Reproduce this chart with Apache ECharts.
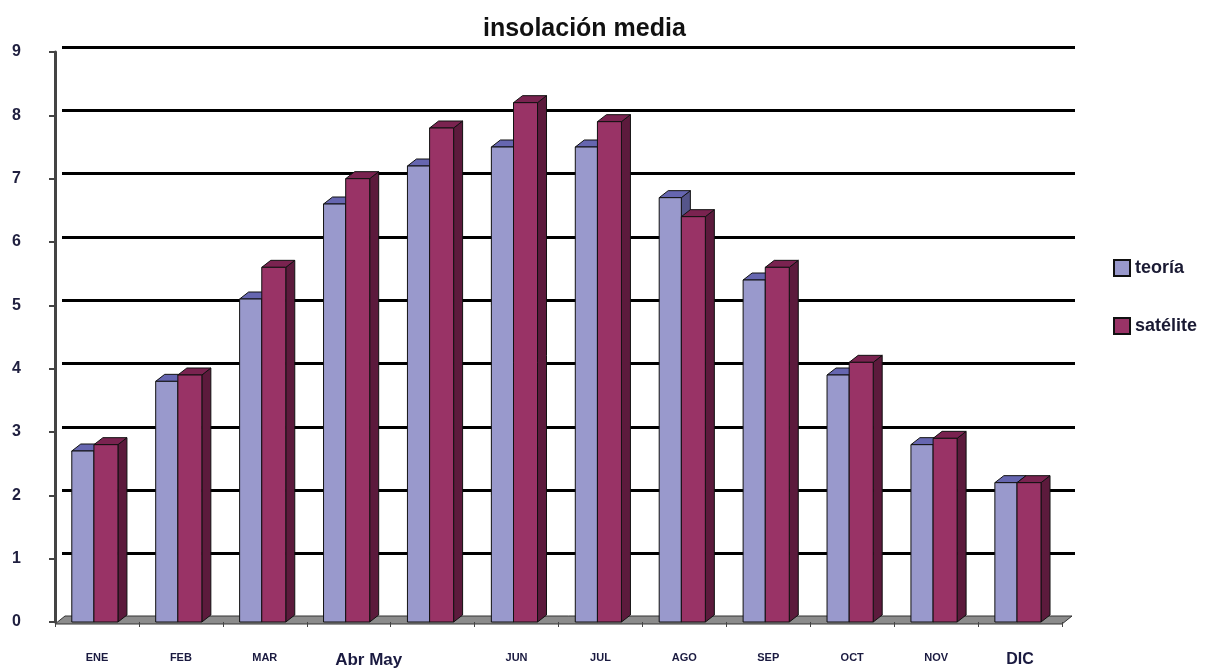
<!DOCTYPE html>
<html><head><meta charset="utf-8">
<script src="https://cdn.jsdelivr.net/npm/echarts@6/dist/echarts.min.js"></script>
<style>html,body{margin:0;padding:0;background:#fff}#c{width:1210px;height:669px}</style>
</head><body><div id="c"></div>
<script>
const categories = ['ENE','FEB','MAR','Abr','May','JUN','JUL','AGO','SEP','OCT','NOV','DIC'];
const tickLabels = ['ENE','FEB','MAR','Abr May','','JUN','JUL','AGO','SEP','OCT','NOV','DIC'];
const teoria =   [2.7, 3.8, 5.1, 6.6, 7.2, 7.5, 7.5, 6.7, 5.4, 3.9, 2.8, 2.2];
const satelite = [2.8, 3.9, 5.6, 7.0, 7.8, 8.2, 7.9, 6.4, 5.6, 4.1, 2.9, 2.2];
const yTicks = [0,1,2,3,4,5,6,7,8,9];

const DX = 9, DY = 7;
function make3D(front, top, side, fromF, toF) {
  return function (params, api) {
    const i = api.value(0), v = api.value(1);
    const c = api.coord([i, v]);
    const b = api.coord([i, 0])[1];
    const bw = api.size([1, 0])[0];
    const start = c[0] - bw / 2;
    const l = start + bw * fromF, r = start + bw * toF, t = c[1];
    const line = {stroke: '#111', lineWidth: 1};
    return {type: 'group', children: [
      {type: 'polygon', shape: {points: [[r, t], [r + DX, t - DY], [r + DX, b - DY], [r, b]]}, style: Object.assign({fill: side}, line)},
      {type: 'polygon', shape: {points: [[l, t], [r, t], [r + DX, t - DY], [l + DX, t - DY]]}, style: Object.assign({fill: top}, line)},
      {type: 'rect', shape: {x: l, y: t, width: r - l, height: b - t}, style: Object.assign({fill: front}, line)}
    ]};
  };
}
const chart = echarts.init(document.getElementById('c'));
const lblFont = 'Liberation Sans, Arial, sans-serif';
chart.setOption({
  animation: false,
  backgroundColor: '#fff',
  title: {text: 'insolación media', left: 478, top: 12,
    textStyle: {fontFamily: lblFont, fontSize: 25, fontWeight: 'bold', color: '#111'}},
  legend: {orient: 'vertical', left: 1108, top: 254, itemGap: 40, itemWidth: 16, itemHeight: 16, icon: 'rect',
    textStyle: {fontFamily: lblFont, fontSize: 18, fontWeight: 'bold', color: '#1a1a33'},
    data: ['teoría', 'satélite']},
  grid: [
    {left: 55, right: 148, top: 52, bottom: 47},
    {left: 62, right: 135, top: 47, bottom: 52}
  ],
  xAxis: [
    {type: 'category', gridIndex: 0, data: categories, boundaryGap: true,
      axisLine: {show: false},
      axisTick: {show: true, length: 5, interval: 0, lineStyle: {color: '#444', width: 1}},
      axisLabel: {interval: 0, margin: 30, fontFamily: lblFont, fontSize: 11, fontWeight: 'bold', color: '#1a1a40',
        formatter: function (val, idx) {
          const t = tickLabels[idx];
          if (idx === 3) return '{big|' + t + '}';
          if (idx === 11) return '{dic|' + t + '}';
          return t;
        },
        rich: {big: {fontFamily: lblFont, fontSize: 17, fontWeight: 'bold', color: '#1a1a40', padding: [0, 0, 0, 40]},
               dic: {fontFamily: lblFont, fontSize: 16, fontWeight: 'bold', color: '#1a1a40'}}}},
    {type: 'category', gridIndex: 1, data: categories, show: false}
  ],
  yAxis: [
    {type: 'value', gridIndex: 0, min: 0, max: 9, interval: 1,
      axisLine: {show: true, lineStyle: {color: '#444', width: 3}},
      axisTick: {show: true, length: 6, lineStyle: {color: '#444', width: 2}},
      splitLine: {show: false},
      axisLabel: {margin: 43, align: 'left', padding: [10, 0, 0, 0], fontFamily: lblFont, fontSize: 16, fontWeight: 'bold', color: '#1f1f3f',
        formatter: function (v) { return yTicks.indexOf(v) >= 0 ? String(v) : ''; }}},
    {type: 'value', gridIndex: 1, min: 0, max: 9, interval: 1,
      axisLine: {show: false}, axisTick: {show: false}, axisLabel: {show: false},
      splitLine: {show: true, showMinLine: false, lineStyle: {color: '#000', width: 3}}}
  ],
  graphic: [
    {type: 'polygon', z: 0, shape: {points: [[55, 624], [1062, 624], [1072, 616], [65, 616]]},
      style: {fill: '#8c8c8c', stroke: '#333', lineWidth: 1}}
  ],
  series: [
    {name: 'teoría', type: 'custom', xAxisIndex: 0, yAxisIndex: 0, z: 5,
      itemStyle: {color: '#9999cc', borderColor: '#111', borderWidth: 1},
      renderItem: make3D('#9999cc', '#6666b0', '#55558a', 0.2, 0.464),
      encode: {x: 0, y: 1},
      data: teoria.map((v, i) => [i, v])},
    {name: 'satélite', type: 'custom', xAxisIndex: 0, yAxisIndex: 0, z: 6,
      itemStyle: {color: '#993366', borderColor: '#111', borderWidth: 1},
      renderItem: make3D('#993366', '#7a2350', '#5c1a3c', 0.464, 0.75),
      encode: {x: 0, y: 1},
      data: satelite.map((v, i) => [i, v])}
  ]
});
</script></body></html>
